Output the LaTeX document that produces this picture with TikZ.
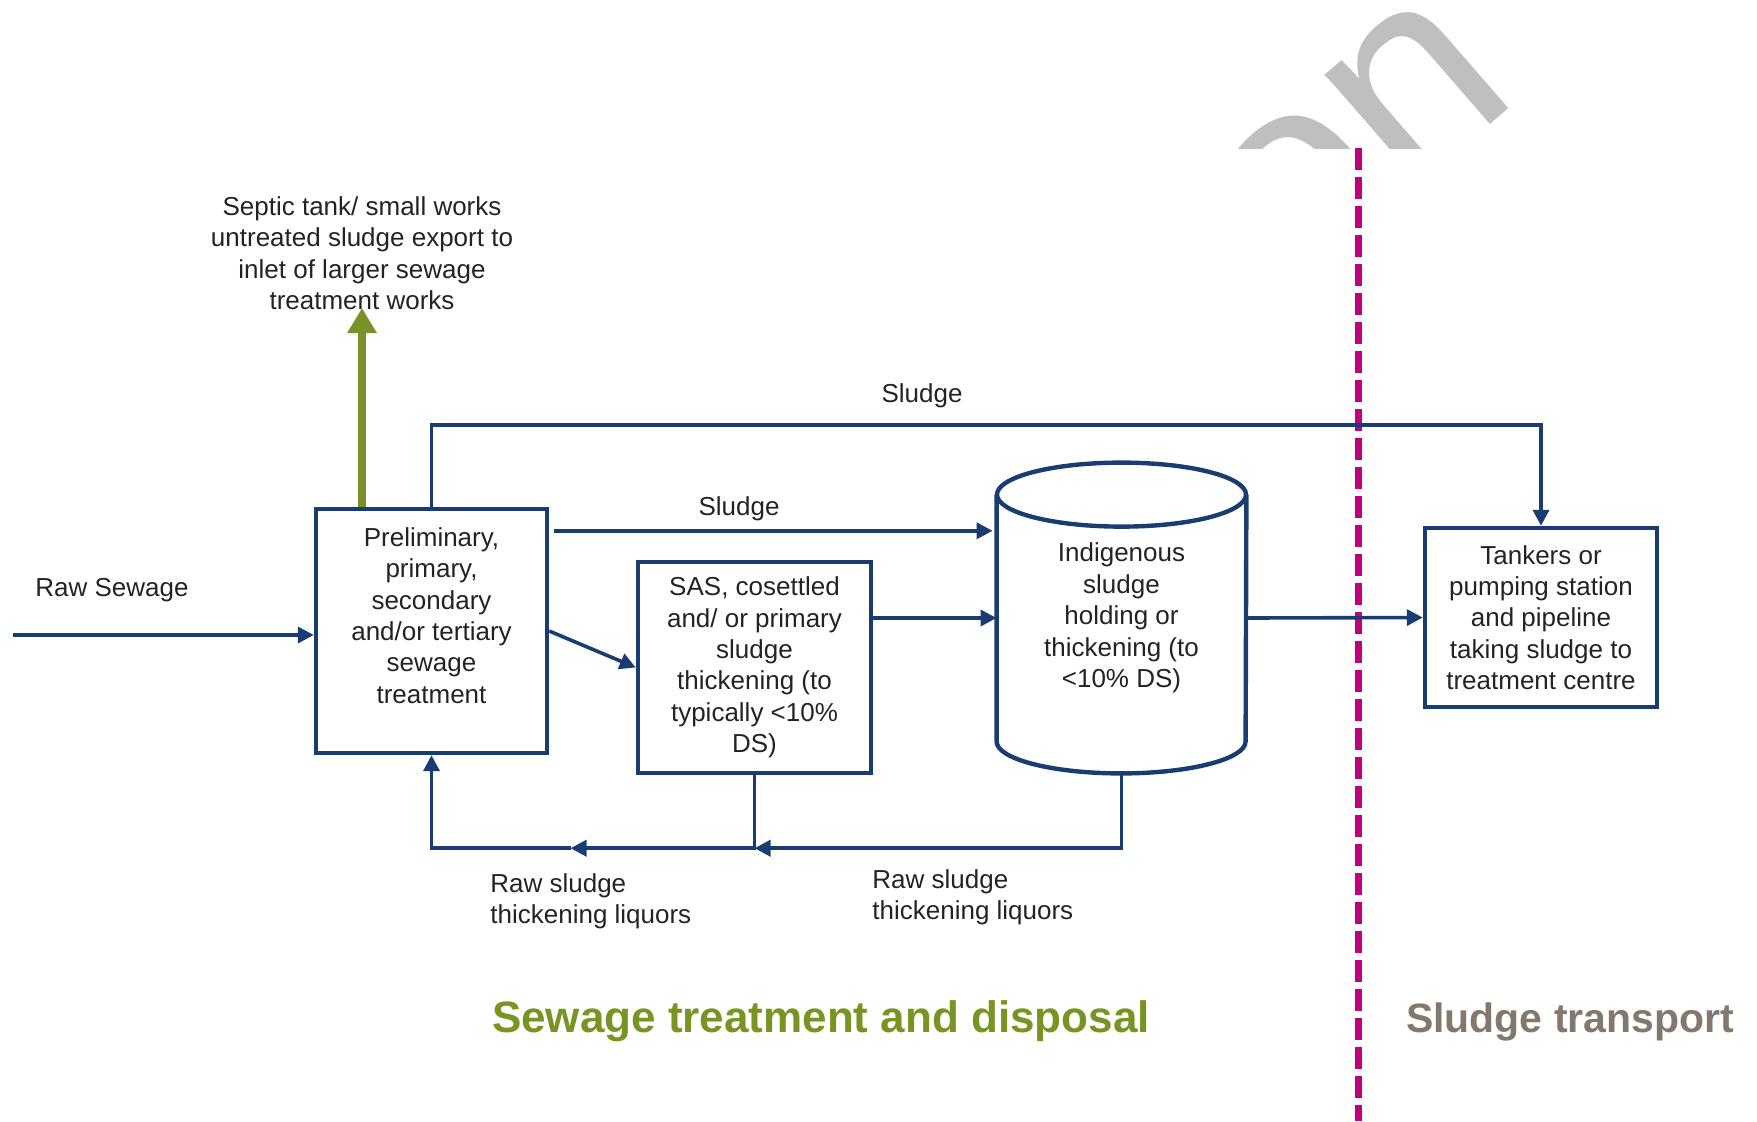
\documentclass[tikz,border=0pt]{standalone}
\usepackage{fontspec}
\setmainfont{Liberation Sans}
\usepackage{tikz}
\usetikzlibrary{arrows.meta,calc}
\definecolor{lineblue}{RGB}{25,60,115}
\definecolor{exportgreen}{RGB}{118,146,40}
\definecolor{zonegreen}{RGB}{120,148,34}
\definecolor{zonebrown}{RGB}{132,120,108}
\definecolor{divmagenta}{RGB}{192,0,128}
\definecolor{textgray}{RGB}{35,35,35}

\begin{document}
\begin{tikzpicture}[x=0.5pt,y=-0.5pt,
        txt/.style={font=\fontsize{13}{15.7}\selectfont,text=textgray,align=center,inner sep=0pt},
        box/.style={txt,draw=lineblue,line width=2.2pt},
        flow/.style={draw=lineblue,line width=1.8pt,-{Triangle[length=8pt,width=8pt]}},
        export/.style={draw=exportgreen,line width=4pt,-{Triangle[length=12.5pt,width=14pt]}},
        zone/.style={font=\fontsize{22}{26}\selectfont\bfseries,inner sep=0pt,anchor=base}]
        \useasboundingbox (0,0) rectangle (1757,1121);
        % cut-off watermark
        \begin{scope}
        \clip (1050,0) rectangle (1757,148);
        \node[font=\fontsize{138}{138}\selectfont,text=black!25,rotate=41,anchor=base east,inner sep=0pt] (mark) at (1523,96) {on};
        \end{scope}
        % zone divider
        \coordinate (divtop) at (1358,148);
        \coordinate (divbot) at (1358,1121);
        \draw[divmagenta,line width=3.5pt,dash pattern=on 11pt off 3.5pt] (divtop) -- (divbot);
        % process boxes
        \node[box,minimum width=115.5pt,minimum height=122pt] (prelim) at (431.5,631) {Preliminary,\\primary,\\secondary\\and/or tertiary\\sewage\\treatment\\\mbox{}};
        \node[box,minimum width=116.5pt,minimum height=105.5pt] (sas) at (754.5,667.5) {SAS, cosettled\\and/ or primary\\sludge\\thickening (to\\typically <10\%\\DS)};
        \node[txt,minimum width=124.5pt,minimum height=155pt] (tank) at (1121.5,618) {Indigenous\\sludge\\holding or\\thickening (to\\<10\% DS)};
        \node[box,minimum width=116pt,minimum height=89.5pt] (tankers) at (1541,617.5) {Tankers or\\pumping station\\and pipeline\\taking sludge to\\treatment centre};
        \draw[lineblue,line width=2.2pt] ($(tank.north)+(0,32)$) ellipse [x radius=62.25pt,y radius=16pt];
        \draw[lineblue,line width=2.2pt] ($(tank.north west)+(0,32)$) -- ($(tank.south west)+(0,-32)$) arc [start angle=180,end angle=360,x radius=62.25pt,y radius=16pt] -- ($(tank.north east)+(0,32)$);
        % inflow and export
        \coordinate (rawin) at (13,635);
        \draw[flow] (rawin) -- (rawin -| prelim.west);
        \node[txt] (rawlbl) at (112,590) {Raw Sewage};
        \node[txt] (septic) at (362,253) {Septic tank/ small works\\untreated sludge export to\\inlet of larger sewage\\treatment works};
        \coordinate (exporttip) at (362,308);
        \draw[export] (exporttip |- prelim.north) -- (exporttip);
        % sludge routes
        \draw[flow] (prelim.north) -- ++(0,-82) -| (tankers.north);
        \node[txt] (sludgetop) at (922,396) {Sludge};
        \coordinate (s1) at ($(prelim.north east)+(5,24)$);
        \draw[flow] (s1) -- ($(s1 -| tank.west)+(-4,0)$);
        \node[txt] (sludgemid) at (739,509) {Sludge};
        \draw[flow] (prelim.east) -- (sas.west);
        \draw[flow] (sas.east |- tank.west) -- (tank.west);
        \draw[flow] (tank.east) -- (tankers.west);
        % liquor returns
        \coordinate (liqjoin) at ($(sas.south)+(0,73)$);
        \coordinate (liqmid) at ($(liqjoin)+(-184,0)$);
        \draw[flow] (tank.south) |- (liqjoin);
        \draw[flow] (sas.south) -- (liqjoin) -- (liqmid);
        \draw[flow] (liqmid) -| (prelim.south);
        \node[txt,align=left,anchor=west] (liqlbl1) at (490,901) {Raw sludge\\thickening liquors};
        \node[txt,align=left,anchor=west] (liqlbl2) at (872,897) {Raw sludge\\thickening liquors};
        % zone titles
        \node[zone,text=zonegreen] (stwzone) at (821,1032) {Sewage treatment and disposal};
        \node[zone,text=zonebrown,font=\fontsize{20.5}{24}\selectfont\bfseries] (transzone) at (1570,1032) {Sludge transport};
\end{tikzpicture}
\end{document}
